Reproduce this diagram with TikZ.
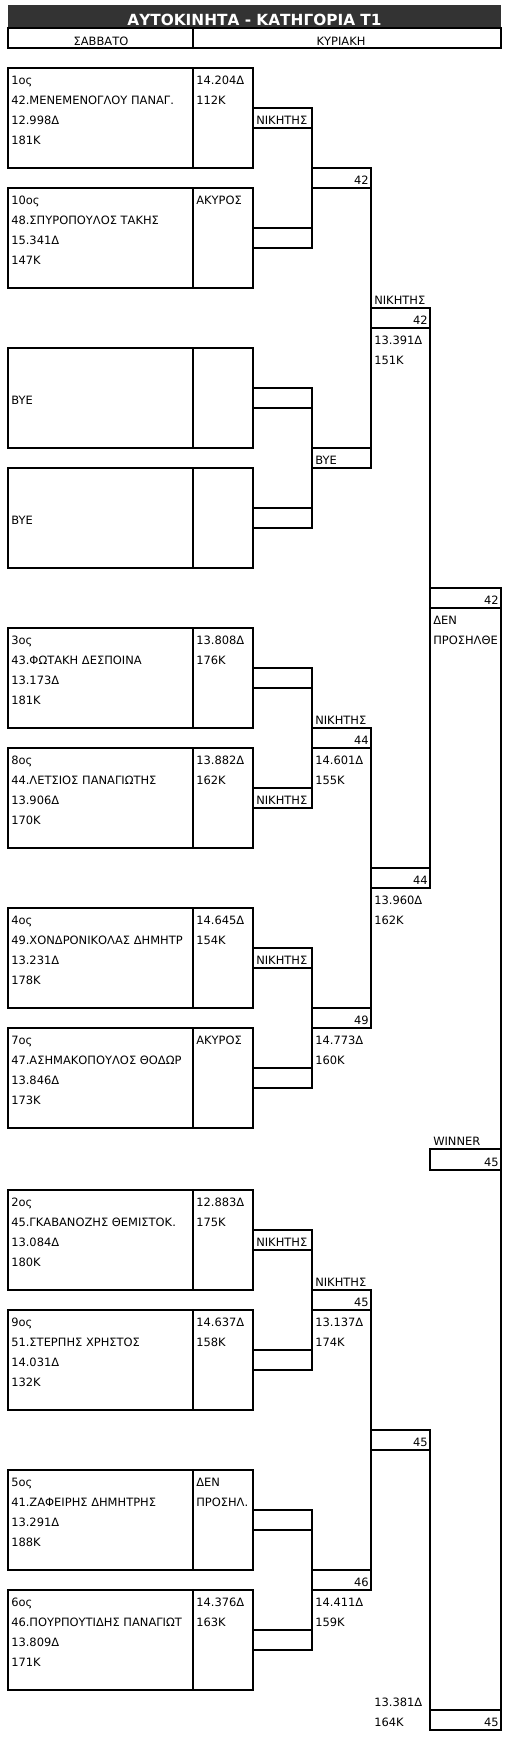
\documentclass[tikz,border=0pt]{standalone}
\usepackage{fontspec}
\setmainfont{DejaVu Sans}
\definecolor{titlegray}{HTML}{333333}
\newcommand\satbox[5]{% name, top, col A lines, col B lines, C cell text
  \node[cell={185}{100}] (#1a) at (8,#2) {};
  \node[cell={60}{100}] (#1b) at (193,#2) {};
  \foreach \t [count=\i] in {#3} {\node[txt] at (11,#2+20*\i-4) {\t};}
  \foreach \t [count=\i] in {#4} {\node[txt] at (196,#2+20*\i-4) {\t};}
  \node[cell={59}{20}] (#1c) at (253,#2+40) {};
  \node[txt] at (256,#2+56) {#5};
}
\begin{document}
\begin{tikzpicture}[x=0.75pt,y=-0.75pt,
  ln/.style={line width=0.8pt},
  cell/.style 2 args={draw, line width=0.8pt, inner sep=0pt, outer sep=0pt, anchor=north west,
    minimum width=#1*0.75pt, minimum height=#2*0.75pt},
  txt/.style={anchor=base west, inner sep=0pt, font=\fontsize{8.6pt}{10pt}\selectfont},
  rtxt/.style={anchor=base east, inner sep=0pt, font=\fontsize{8.6pt}{10pt}\selectfont},
  ctxt/.style={anchor=base, inner sep=0pt, font=\fontsize{8.6pt}{10pt}\selectfont},
]
\useasboundingbox (0,0) rectangle (510,1738);

% title and header
\node[fill=titlegray, inner sep=0pt, outer sep=0pt, anchor=north west,
  minimum width=493*0.75pt, minimum height=23*0.75pt] (title) at (8,5) {};
\node[anchor=base, inner sep=0pt, text=white, font=\bfseries\fontsize{11.5pt}{13pt}\selectfont]
  (titletext) at (254.5,25) {ΑΥΤΟΚΙΝΗΤΑ - ΚΑΤΗΓΟΡΙΑ Τ1};
\node[cell={185}{20}] (hsat) at (8,28) {};
\node[cell={308}{20}] (hsun) at (193,28) {};
\node[ctxt] (hsatt) at (101,45) {ΣΑΒΒΑΤΟ};
\node[ctxt] (hsunt) at (341,45) {ΚΥΡΙΑΚΗ};

% Saturday boxes
\satbox{s1}{68}{1ος,42.ΜΕΝΕΜΕΝΟΓΛΟΥ ΠΑΝΑΓ.,12.998Δ,181K}{14.204Δ,112K}{ΝΙΚΗΤΗΣ}
\satbox{s2}{188}{10ος,48.ΣΠΥΡΟΠΟΥΛΟΣ ΤΑΚΗΣ,15.341Δ,147K}{ΑΚΥΡΟΣ}{}
\satbox{s3}{348}{}{}{}
\node[txt] (bye1) at (11,404) {BYE};
\satbox{s4}{468}{}{}{}
\node[txt] (bye2) at (11,524) {BYE};
\satbox{s5}{628}{3ος,43.ΦΩΤΑΚΗ ΔΕΣΠΟΙΝΑ,13.173Δ,181K}{13.808Δ,176K}{}
\satbox{s6}{748}{8ος,44.ΛΕΤΣΙΟΣ ΠΑΝΑΓΙΩΤΗΣ,13.906Δ,170K}{13.882Δ,162K}{ΝΙΚΗΤΗΣ}
\satbox{s7}{908}{4ος,49.ΧΟΝΔΡΟΝΙΚΟΛΑΣ ΔΗΜΗΤΡ,13.231Δ,178K}{14.645Δ,154K}{ΝΙΚΗΤΗΣ}
\satbox{s8}{1028}{7ος,47.ΑΣΗΜΑΚΟΠΟΥΛΟΣ ΘΟΔΩΡ,13.846Δ,173K}{ΑΚΥΡΟΣ}{}
\satbox{s9}{1190}{2ος,45.ΓΚΑΒΑΝΟΖΗΣ ΘΕΜΙΣΤΟΚ.,13.084Δ,180K}{12.883Δ,175K}{ΝΙΚΗΤΗΣ}
\satbox{s10}{1310}{9ος,51.ΣΤΕΡΠΗΣ ΧΡΗΣΤΟΣ,14.031Δ,132K}{14.637Δ,158K}{}
\satbox{s11}{1470}{5ος,41.ΖΑΦΕΙΡΗΣ ΔΗΜΗΤΡΗΣ,13.291Δ,188K}{ΔΕΝ,ΠΡΟΣΗΛ.}{}
\satbox{s12}{1590}{6ος,46.ΠΟΥΡΠΟΥΤΙΔΗΣ ΠΑΝΑΓΙΩΤ,13.809Δ,171K}{14.376Δ,163K}{}

% round 1 connectors
\draw[ln] (s1c.north east) -- (s2c.south east);
\draw[ln] (s3c.north east) -- (s4c.south east);
\draw[ln] (s5c.north east) -- (s6c.south east);
\draw[ln] (s7c.north east) -- (s8c.south east);
\draw[ln] (s9c.north east) -- (s10c.south east);
\draw[ln] (s11c.north east) -- (s12c.south east);

% D column
\node[cell={59}{20}] (d1) at (312,168) {};
\node[rtxt] (d1t) at (369,184) {42};
\node[cell={59}{20}] (d2) at (312,448) {};
\node[txt] (d2t) at (315,464) {BYE};
\node[cell={59}{20}] (d3) at (312,728) {};
\node[rtxt] (d3t) at (369,744) {44};
\node[txt] (d3l) at (315,724) {ΝΙΚΗΤΗΣ};
\node[txt] (d3a) at (315,764) {14.601Δ};
\node[txt] (d3b) at (315,784) {155K};
\node[cell={59}{20}] (d4) at (312,1008) {};
\node[rtxt] (d4t) at (369,1024) {49};
\node[txt] (d4a) at (315,1044) {14.773Δ};
\node[txt] (d4b) at (315,1064) {160K};
\node[cell={59}{20}] (d5) at (312,1290) {};
\node[rtxt] (d5t) at (369,1306) {45};
\node[txt] (d5l) at (315,1286) {ΝΙΚΗΤΗΣ};
\node[txt] (d5a) at (315,1326) {13.137Δ};
\node[txt] (d5b) at (315,1346) {174K};
\node[cell={59}{20}] (d6) at (312,1570) {};
\node[rtxt] (d6t) at (369,1586) {46};
\node[txt] (d6a) at (315,1606) {14.411Δ};
\node[txt] (d6b) at (315,1626) {159K};

\draw[ln] (d1.north east) -- (d2.south east);
\draw[ln] (d3.north east) -- (d4.south east);
\draw[ln] (d5.north east) -- (d6.south east);

% E column
\node[cell={59}{20}] (e1) at (371,308) {};
\node[rtxt] (e1t) at (428,324) {42};
\node[txt] (e1l) at (374,304) {ΝΙΚΗΤΗΣ};
\node[txt] (e1a) at (374,344) {13.391Δ};
\node[txt] (e1b) at (374,364) {151K};
\node[cell={59}{20}] (e2) at (371,868) {};
\node[rtxt] (e2t) at (428,884) {44};
\node[txt] (e2a) at (374,904) {13.960Δ};
\node[txt] (e2b) at (374,924) {162K};
\node[cell={59}{20}] (e3) at (371,1430) {};
\node[rtxt] (e3t) at (428,1446) {45};
\node[txt] (fa) at (374,1706) {13.381Δ};
\node[txt] (fb) at (374,1726) {164K};

% F column
\node[cell={71}{20}] (f1) at (430,588) {};
\node[rtxt] (f1t) at (499,604) {42};
\node[txt] (f1a) at (433,624) {ΔΕΝ};
\node[txt] (f1b) at (433,644) {ΠΡΟΣΗΛΘΕ};
\node[cell={71}{21}] (w) at (430,1149) {};
\node[rtxt] (wt) at (499,1166) {45};
\node[txt] (wl) at (433,1145) {WINNER};
\node[cell={71}{20}] (f2) at (430,1710) {};
\node[rtxt] (f2t) at (499,1726) {45};

\draw[ln] (e1.north east) -- (e2.south east);
\draw[ln] (e3.north east) -- (f2.south west);
\draw[ln] (f1.north east) -- (f2.south east);
\end{tikzpicture}
\end{document}
